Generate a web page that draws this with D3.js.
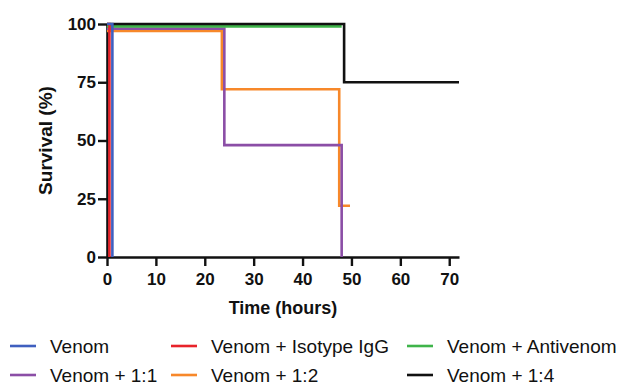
<!DOCTYPE html>
<html>
<head>
<meta charset="utf-8">
<script src="https://cdn.jsdelivr.net/npm/d3@7"></script>
<style>
  body { margin: 0; background: #fff; }
  svg { font-family: "Liberation Sans", Arial, sans-serif; }
</style>
</head>
<body>
<svg id="chart" width="617" height="386"></svg>
<script>
"use strict";

// survival data (time in hours, survival in %)
const seriesNames = ["Venom", "Venom + Isotype IgG", "Venom + Antivenom", "Venom + 1:1", "Venom + 1:2", "Venom + 1:4"];
const seriesColors = ["#3f5fbf", "#e8232a", "#3fb44a", "#8b4ea6", "#f7882a", "#111111"];
const venomT = [0, 1.1];
const venomS = [100, 0];
const isotypeT = [0, 0.5];
const isotypeS = [100, 0];
const antivenomT = [0, 48];
const antivenomS = [99, 99];
const ratio11T = [0, 24, 48];
const ratio11S = [98, 48, 0];
const ratio12T = [0, 23.5, 47.5, 49.7];
const ratio12S = [97, 72, 22, 22];
const ratio14T = [0, 48.5, 72];
const ratio14S = [100, 75, 75];
const xTicks = [0, 10, 20, 30, 40, 50, 60, 70];
const yTicks = [0, 25, 50, 75, 100];

const svg = d3.select("#chart");

const x = d3.scaleLinear().domain([0, 72]).range([107, 459]);
const y = d3.scaleLinear().domain([0, 100]).range([257, 24]);

const toPoints = (t, s) => t.map((d, i) => [d, s[i]]);
const series = [
  toPoints(venomT, venomS),
  toPoints(isotypeT, isotypeS),
  toPoints(antivenomT, antivenomS),
  toPoints(ratio11T, ratio11S),
  toPoints(ratio12T, ratio12S),
  toPoints(ratio14T, ratio14S)
];

// axes
const xAxis = svg.append("g")
  .attr("transform", "translate(0," + y(0) + ")")
  .call(d3.axisBottom(x).tickValues(xTicks).tickSize(9).tickPadding(7).tickSizeOuter(0));
const yAxis = svg.append("g")
  .attr("transform", "translate(" + x(0) + ",0)")
  .call(d3.axisLeft(y).tickValues(yTicks).tickSize(9).tickPadding(2).tickSizeOuter(0));

[xAxis, yAxis].forEach(function(a) {
  a.select(".domain").attr("stroke", "#111").attr("stroke-width", 2.6);
  a.selectAll(".tick line").attr("stroke", "#111").attr("stroke-width", 2.4);
  a.selectAll(".tick text")
    .attr("fill", "#111")
    .style("font-size", "17px")
    .style("font-weight", "bold")
    .style("font-family", "'Liberation Sans', Arial, sans-serif");
});

// step lines
const line = d3.line()
  .x(d => x(d[0]))
  .y(d => y(d[1]))
  .curve(d3.curveStepAfter);

const drawOrder = [4, 3, 2, 5, 1, 0];
drawOrder.forEach(function(i) {
  svg.append("path")
    .datum(series[i])
    .attr("fill", "none")
    .attr("stroke", seriesColors[i])
    .attr("stroke-width", 2.6)
    .attr("d", line);
});

// axis titles
svg.append("text")
  .attr("x", 283)
  .attr("y", 314)
  .attr("text-anchor", "middle")
  .style("font-size", "18px")
  .style("font-weight", "bold")
  .attr("fill", "#111")
  .text("Time (hours)");

svg.append("text")
  .attr("transform", "translate(52," + y(50) + ") rotate(-90)")
  .attr("text-anchor", "middle")
  .style("font-size", "19px")
  .style("font-weight", "bold")
  .attr("fill", "#111")
  .text("Survival (%)");

// legend
const legendX = [10, 171, 407];
const legendY = [346, 375];
const legend = svg.append("g");
seriesNames.forEach(function(name, i) {
  const col = i % 3;
  const row = Math.floor(i / 3);
  const gx = legendX[col];
  const gy = legendY[row];
  legend.append("line")
    .attr("x1", gx).attr("x2", gx + 26)
    .attr("y1", gy).attr("y2", gy)
    .attr("stroke", seriesColors[i])
    .attr("stroke-width", 2.6);
  legend.append("text")
    .attr("x", gx + 40)
    .attr("y", gy)
    .attr("dy", "0.35em")
    .style("font-size", "19px")
    .attr("fill", "#111")
    .text(name);
});
</script>
</body>
</html>
